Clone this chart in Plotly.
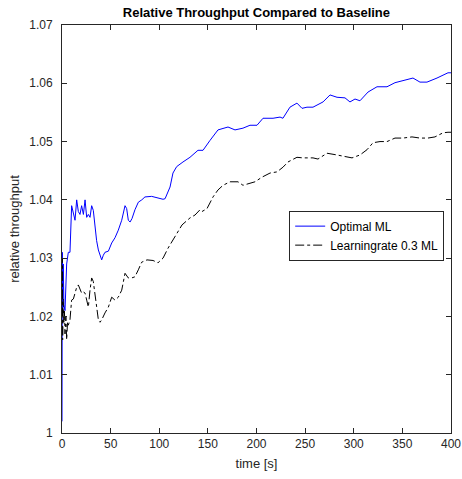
import plotly.graph_objects as go

# Optimal ML (blue)
t_opt = [0, 0.3, 0.8, 1.3, 2.0, 3.1, 4.0, 4.8, 6.5, 8.2, 9.9, 11.7, 13.4, 15.1, 16.8, 18.5,
         20.2, 22.0, 23.7, 25.4, 27.1, 28.8, 30.5, 32.2, 33.9, 35.6, 37.4, 39.1, 40.8, 42.5,
         44.2, 47.7, 51.1, 54.5, 57.9, 61.4, 64.8, 66.5, 68.2, 70, 72, 75, 78.5, 82, 85.3,
         92.2, 98.7, 103.9, 106, 111.1, 114.1, 117.9, 124.4, 131.6, 139.8, 145, 152.2, 160.4,
         170.7, 177.9, 186.1, 193.3, 200.5, 206.7, 217, 224.2, 227.2, 234.4, 241.6, 246.8,
         251.9, 258.1, 268.4, 275.6, 282.8, 291, 296.1, 301.3, 306.4, 314.7, 323.9, 334.2,
         342.4, 352.7, 360.9, 368.1, 375.3, 385.6, 391.8, 396.9, 400]
v_opt = [1.002, 1.031, 1.021, 1.029, 1.022, 1.021, 1.026, 1.029, 1.031, 1.031, 1.039, 1.0375,
         1.0365, 1.040, 1.038, 1.0375, 1.039, 1.0375, 1.040, 1.037, 1.0375, 1.037, 1.039,
         1.0382, 1.0353, 1.0330, 1.0314, 1.0305, 1.0297, 1.0305, 1.0310, 1.0312, 1.0326,
         1.0335, 1.0348, 1.0365, 1.039, 1.0385, 1.0365, 1.0362, 1.0368, 1.0383, 1.0396,
         1.0400, 1.0405, 1.0406, 1.0403, 1.0401, 1.0402, 1.0422, 1.0446, 1.0457, 1.0465,
         1.0473, 1.0485, 1.0485, 1.0502, 1.0520, 1.0525, 1.0520, 1.0523, 1.0528, 1.0528,
         1.0540, 1.0540, 1.0542, 1.0540, 1.0559, 1.0566, 1.0557, 1.0559, 1.0559, 1.0568,
         1.0580, 1.0576, 1.0575, 1.0568, 1.0573, 1.0570, 1.0585, 1.0594, 1.0594, 1.0601,
         1.0606, 1.0609, 1.0602, 1.0602, 1.0609, 1.0614, 1.0618, 1.0618]

# Learningrate 0.3 ML (black dash-dot)
t_lr = [0, 0.3, 0.7, 1.2, 1.8, 2.5, 3.1, 4.0, 4.8, 5.7, 6.5, 8.2, 9.9, 11.7, 13.4, 15.1, 16.8,
        18.5, 20.2, 22.0, 23.7, 25.4, 27.1, 28.8, 30.5, 32.2, 33.9, 35.6, 37.4, 39.1, 40.8,
        44.2, 47.7, 51.1, 54.5, 57.9, 61.4, 64.8, 68.2, 71.6, 75, 78.5, 81.9, 87.4, 93.6,
        98.7, 103.9, 109, 114.1, 119.3, 123.4, 131.6, 136.8, 141.9, 144, 149.1, 155.3, 160.4,
        165.6, 172.8, 181, 186.1, 191.3, 198.5, 205.7, 213.9, 221.1, 227.2, 232.4, 239.6,
        241.6, 247.8, 258.1, 263.2, 272.5, 282.8, 293.1, 298.2, 306.4, 313.6, 319.8, 327,
        334.2, 342.4, 350.6, 359.9, 368.1, 376.3, 383.5, 391.8, 396.9, 400]
v_lr = [1.020, 1.030, 1.016, 1.023, 1.019, 1.021, 1.017, 1.020, 1.016, 1.019, 1.0185, 1.0194,
        1.0228, 1.023, 1.024, 1.025, 1.0254, 1.0245, 1.024, 1.0242, 1.024, 1.0228, 1.0216,
        1.0245, 1.0266, 1.026, 1.024, 1.0216, 1.0194, 1.019, 1.0194, 1.0206, 1.0216, 1.0233,
        1.0228, 1.0233, 1.0245, 1.0274, 1.0266, 1.0266, 1.0268, 1.0280, 1.0293, 1.0297,
        1.0296, 1.0292, 1.0300, 1.0317, 1.0331, 1.0345, 1.0357, 1.0369, 1.0374, 1.0383,
        1.0380, 1.0385, 1.0405, 1.0417, 1.0425, 1.0431, 1.0431, 1.0425, 1.0427, 1.0431,
        1.0439, 1.0446, 1.0448, 1.0456, 1.0465, 1.0472, 1.0473, 1.0472, 1.0472, 1.0470,
        1.0480, 1.0477, 1.0473, 1.0472, 1.0477, 1.0486, 1.0498, 1.0500, 1.0500, 1.0506,
        1.0506, 1.0508, 1.0506, 1.0506, 1.0508, 1.0515, 1.0516, 1.0516]

x_ticks = [0, 50, 100, 150, 200, 250, 300, 350, 400]
y_ticks = [1.00, 1.01, 1.02, 1.03, 1.04, 1.05, 1.06, 1.07]
y_tick_labels = ["1", "1.01", "1.02", "1.03", "1.04", "1.05", "1.06", "1.07"]

FONT = "Liberation Sans, Arial, Helvetica, sans-serif"
AX = "#262626"

fig = go.Figure()
fig.add_trace(go.Scatter(x=t_opt, y=v_opt, mode="lines", name="Optimal ML",
                         line=dict(color="#0000ff", width=1)))
fig.add_trace(go.Scatter(x=t_lr, y=v_lr, mode="lines", name="Learningrate 0.3 ML",
                         line=dict(color="#000000", width=1, dash="dashdot")))

axis_common = dict(showgrid=False, zeroline=False, showline=True, linecolor=AX, linewidth=1,
                   mirror="ticks", ticks="inside", ticklen=5, tickcolor=AX, tickwidth=1,
                   automargin=False,
                   tickfont=dict(family=FONT, size=12, color=AX))

fig.update_layout(
    width=462, height=479,
    margin=dict(l=62, r=11, t=25, b=46),
    paper_bgcolor="white", plot_bgcolor="white",
    font=dict(family=FONT, color=AX),
    title=dict(text="<b>Relative Throughput Compared to Baseline</b>",
               font=dict(family=FONT, size=13, color="#000000"),
               x=0.555, xanchor="center", y=0.975, yanchor="middle"),
    xaxis=dict(range=[0, 400], tickvals=x_ticks,
               title=dict(text="time [s]", font=dict(family=FONT, size=13, color=AX), standoff=8),
               **axis_common),
    yaxis=dict(range=[1.0, 1.07], tickvals=y_ticks, ticktext=y_tick_labels,
               ticklabelstandoff=6,
               title=dict(text="relative throughput", font=dict(family=FONT, size=13, color=AX),
                          standoff=6),
               **axis_common),
    legend=dict(x=0.584, y=0.545, xanchor="left", yanchor="top",
                bgcolor="white", bordercolor=AX, borderwidth=1,
                font=dict(family=FONT, size=12, color="#000000"),
                tracegroupgap=0, itemwidth=30),
    showlegend=True,
)

fig.write_html("out.html")
